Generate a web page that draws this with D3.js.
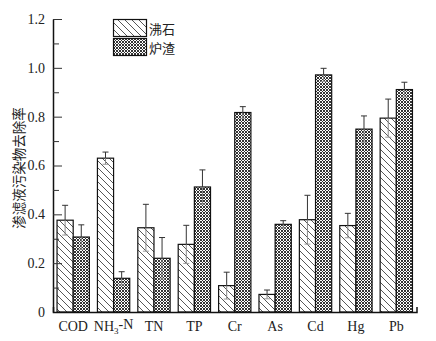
<!DOCTYPE html>
<html><head><meta charset="utf-8">
<script src="https://cdn.jsdelivr.net/npm/d3@7"></script>
<style>body{margin:0;background:#fff}</style>
</head><body>
<svg id="c" width="436" height="341"></svg>
<script>
const categories = ["COD","NH3-N","TN","TP","Cr","As","Cd","Hg","Pb"];
const seriesNames = ["沸石","炉渣"];
const zeolite = [0.376,0.630,0.345,0.277,0.108,0.072,0.378,0.354,0.794];
const zeoliteErr = [0.061,0.025,0.096,0.078,0.055,0.018,0.100,0.050,0.078];
const slag = [0.307,0.138,0.220,0.512,0.817,0.359,0.971,0.749,0.911];
const slagErr = [0.050,0.027,0.085,0.070,0.024,0.015,0.027,0.054,0.030];
const yTicks = [0,0.2,0.4,0.6,0.8,1.0,1.2];
const yMinor = [0.1,0.3,0.5,0.7,0.9,1.1];
const yTitle = "渗滤液污染物去除率";

const svg = d3.select("#c");
const defs = svg.append("defs");
const ph = defs.append("pattern").attr("id","hatch").attr("patternUnits","userSpaceOnUse")
  .attr("width",7).attr("height",7);
ph.append("rect").attr("width",7).attr("height",7).attr("fill","#fff");
ph.append("path").attr("d","M0,0L7,7M-3.5,3.5L3.5,10.5M3.5,-3.5L10.5,3.5").attr("stroke","#444").attr("stroke-width",0.9);
const pc = defs.append("pattern").attr("id","cross").attr("patternUnits","userSpaceOnUse")
  .attr("width",3).attr("height",3);
pc.append("rect").attr("width",3).attr("height",3).attr("fill","#fff");
pc.append("path").attr("d","M0,0L3,3M3,0L0,3").attr("stroke","#2a2a2a").attr("stroke-width",0.95);

const x = d3.scaleBand().domain(categories).range([53,416.5]).paddingInner(0.2).paddingOuter(0.1);
const x1 = d3.scaleBand().domain(seriesNames).range([0,x.bandwidth()]);
const y = d3.scaleLinear().domain([0,1.2]).range([312,19]);

const fills = ["url(#hatch)","url(#cross)"];
const vals = [zeolite, slag], errs = [zeoliteErr, slagErr];

const g = svg.append("g");
seriesNames.forEach((s,si)=>{
  categories.forEach((c,i)=>{
    const v = vals[si][i], e = errs[si][i];
    const bx = x(c)+x1(s), bw = x1.bandwidth();
    g.append("rect").attr("x",bx).attr("y",y(v)).attr("width",bw).attr("height",y(0)-y(v))
      .attr("fill",fills[si]).attr("stroke","#111").attr("stroke-width",1.2);
    const cx = bx+bw/2;
    g.append("line").attr("x1",cx).attr("x2",cx).attr("y1",y(v)).attr("y2",y(v+e)).attr("stroke","#333").attr("stroke-width",1);
    g.append("line").attr("x1",cx).attr("x2",cx).attr("y1",y(v)).attr("y2",y(v-e)).attr("stroke","#888").attr("stroke-width",1);
    g.append("line").attr("x1",cx-3).attr("x2",cx+3).attr("y1",y(v+e)).attr("y2",y(v+e)).attr("stroke","#333").attr("stroke-width",1);
    g.append("line").attr("x1",cx-3).attr("x2",cx+3).attr("y1",y(v-e)).attr("y2",y(v-e)).attr("stroke","#999").attr("stroke-width",1);
  });
});

// y axis
const ya = svg.append("g").attr("transform","translate(53,0)")
  .call(d3.axisLeft(y).tickValues(yTicks).tickSize(-9).tickSizeOuter(0).tickPadding(8)
    .tickFormat(d=>d===0?"0":d3.format(".1f")(d)));
ya.selectAll("text").attr("font-family","'Liberation Serif',serif").attr("font-size",14).attr("fill","#222");
ya.selectAll("line").attr("stroke","#333");
ya.select(".domain").attr("stroke","#111").attr("stroke-width",1.5);
const ym = svg.append("g").attr("transform","translate(53,0)")
  .call(d3.axisLeft(y).tickValues(yMinor).tickSize(-6).tickSizeOuter(0).tickFormat(""));
ym.select(".domain").remove();
ym.selectAll("line").attr("stroke","#333");

// x axis
const xa = svg.append("g").attr("transform","translate(0,312)")
  .call(d3.axisBottom(x).tickSize(0).tickSizeOuter(-5).tickPadding(9));
xa.select(".domain").attr("stroke","#111").attr("stroke-width",1.5);
xa.selectAll("text").attr("font-family","'Liberation Serif',serif").attr("font-size",14).attr("fill","#222")
  .each(function(d){
    if(d==="NH3-N"){
      const t=d3.select(this); t.text("");
      t.append("tspan").text("NH");
      t.append("tspan").text("3").attr("font-size",9).attr("dy","0.3em");
      t.append("tspan").text("-N").attr("dy","-0.3em");
    }
  });

// y title
svg.append("text").attr("transform","translate(18,168) rotate(-90)").attr("text-anchor","middle")
  .attr("dominant-baseline","central").attr("font-family","'Noto Sans CJK SC',sans-serif")
  .attr("font-size",13.5).attr("fill","#222").text(yTitle);

// legend
const lg = svg.append("g");
seriesNames.forEach((s,si)=>{
  const ly = 19 + si*19;
  lg.append("rect").attr("x",113.5).attr("y",ly+0.5).attr("width",33).attr("height",17)
    .attr("fill",fills[si]).attr("stroke","#111").attr("stroke-width",1.2);
  lg.append("text").attr("x",149).attr("y",ly+9).attr("dominant-baseline","central")
    .attr("font-family","'Noto Sans CJK SC',sans-serif").attr("font-size",13).attr("fill","#222").text(s);
});
</script>
</body></html>
